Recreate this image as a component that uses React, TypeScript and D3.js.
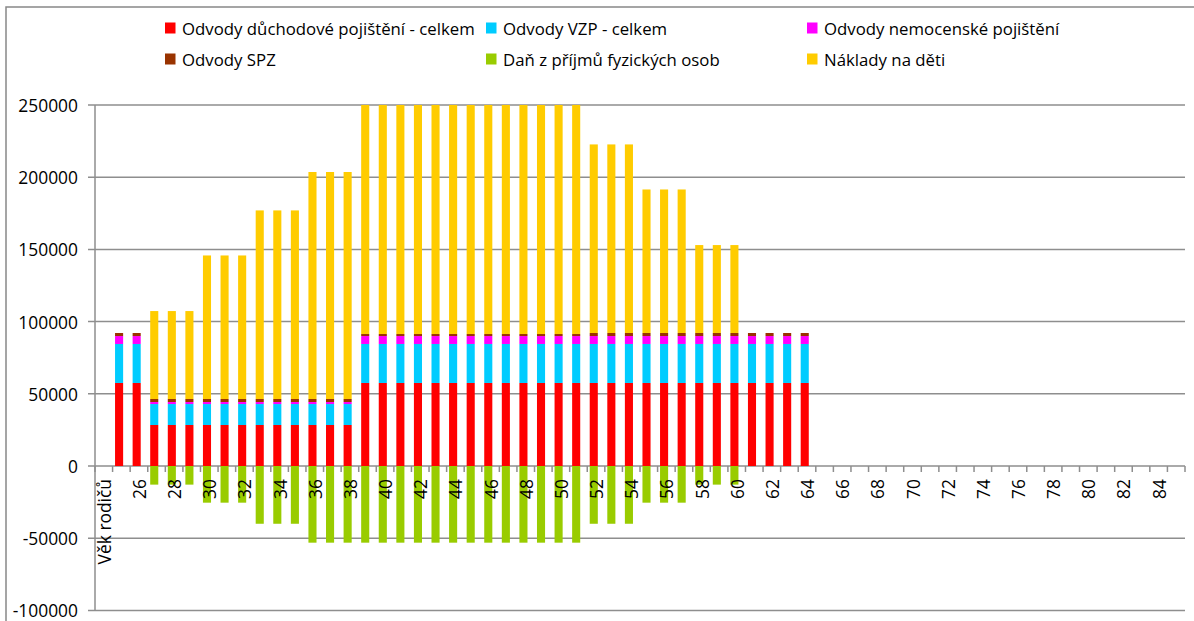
import React from "react";
import * as d3 from "d3";

const categories = [
  "Věk rodičů", "25", "26", "27", "28", "29", "30", "31", "32", "33", "34", "35", "36", "37", "38", "39", "40",
  "41", "42", "43", "44", "45", "46", "47", "48", "49", "50", "51", "52", "53", "54", "55", "56", "57", "58",
  "59", "60", "61", "62", "63", "64", "65", "66", "67", "68", "69", "70", "71", "72", "73", "74", "75", "76",
  "77", "78", "79", "80", "81", "82", "83", "84", "85",
];

// data for ages 25..64
const dataAges = [
  "25", "26", "27", "28", "29", "30", "31", "32", "33", "34", "35", "36", "37", "38", "39", "40", "41", "42",
  "43", "44", "45", "46", "47", "48", "49", "50", "51", "52", "53", "54", "55", "56", "57", "58", "59", "60",
  "61", "62", "63", "64",
];

const duchodove = [
  57500, 57500,
  28400, 28400, 28400, 28400, 28400, 28400, 28400, 28400, 28400, 28400, 28400, 28400,
  57500, 57500, 57500, 57500, 57500, 57500, 57500, 57500, 57500, 57500, 57500, 57500, 57500,
  57500, 57500, 57500, 57500, 57500, 57500, 57500, 57500, 57500,
  57500, 57500, 57500, 57500,
];
const vzp = [
  27000, 27000,
  14500, 14500, 14500, 14500, 14500, 14500, 14500, 14500, 14500, 14500, 14500, 14500,
  27000, 27000, 27000, 27000, 27000, 27000, 27000, 27000, 27000, 27000, 27000, 27000, 27000,
  27000, 27000, 27000, 27000, 27000, 27000, 27000, 27000, 27000,
  27000, 27000, 27000, 27000,
];
const nemocenske = [
  5500, 5500,
  1400, 1400, 1400, 1400, 1400, 1400, 1400, 1400, 1400, 1400, 1400, 1400,
  5500, 5500, 5500, 5500, 5500, 5500, 5500, 5500, 5500, 5500, 5500, 5500, 5500,
  5500, 5500, 5500, 5500, 5500, 5500, 5500, 5500, 5500,
  5500, 5500, 5500, 5500,
];
const spz = [
  2100, 2100,
  2100, 2100, 2100, 2100, 2100, 2100, 2100, 2100, 2100, 2100, 2100, 2100,
  1400, 1400, 1400, 1400, 1400, 1400, 1400, 1400, 1400, 1400, 1400, 1400, 1400,
  2100, 2100, 2100, 2100, 2100, 2100, 2100, 2100, 2100,
  2100, 2100, 2100, 2100,
];
const dan = [
  0, 0,
  -12900, -12900, -12900, -25400, -25400, -25400, -40000, -40000, -40000, -53100, -53100, -53100,
  -53100, -53100, -53100, -53100, -53100, -53100, -53100, -53100, -53100, -53100, -53100, -53100, -53100,
  -40000, -40000, -40000, -25400, -25400, -25400, -12900, -12900, -12900,
  0, 0, 0, 0,
];
const naklady = [
  0, 0,
  60900, 60900, 60900, 99400, 99400, 99400, 130600, 130600, 130600, 157200, 157200, 157200,
  158600, 158600, 158600, 158600, 158600, 158600, 158600, 158600, 158600, 158600, 158600, 158600, 158600,
  130600, 130600, 130600, 99400, 99400, 99400, 60900, 60900, 60900,
  0, 0, 0, 0,
];

const seriesNames = [
  "Odvody důchodové pojištění - celkem",
  "Odvody VZP - celkem",
  "Odvody nemocenské pojištění",
  "Odvody SPZ",
  "Daň z příjmů fyzických osob",
  "Náklady na děti",
];
const seriesColors = ["#FF0000", "#00CCFF", "#FF00FF", "#993300", "#99CC00", "#FFCC00"];
const yTicks = [-100000, -50000, 0, 50000, 100000, 150000, 200000, 250000];

const FONT = "'Open Sans', sans-serif";

export default function App() {
  const W = 1194;
  const H = 621;
  const left = 95;
  const right = 1185;
  const top = 105;
  const bottom = 610.4;

  const x = d3.scaleBand<string>().domain(categories).range([left, right]).paddingInner(0).paddingOuter(0);
  const y = d3.scaleLinear().domain([-100000, 250000]).range([bottom, top]);
  const bw = x.bandwidth();

  const keys = ["duchodove", "vzp", "nemocenske", "spz", "dan", "naklady"];
  const arrays = [duchodove, vzp, nemocenske, spz, dan, naklady];
  const rows = dataAges.map((age, i) => {
    const r: any = { age };
    keys.forEach((k, j) => (r[k] = arrays[j][i]));
    return r;
  });
  const stacked = d3.stack<any>().keys(keys).offset(d3.stackOffsetDiverging)(rows);

  const legendRows = [
    { y: 28, items: [0, 1, 2] },
    { y: 59, items: [3, 4, 5] },
  ];
  const legendX = [165, 486, 807];

  return (
    <svg width={W} height={H} style={{ position: "absolute", left: 0, top: 0 }} fontFamily={FONT}>
      <rect x={0} y={0} width={W} height={H} fill="#fff" />
      <rect x={6} y={7} width={1190} height={640} fill="none" stroke="#888" strokeWidth={1.5} />

      {/* gridlines */}
      {yTicks.map((t) => (
        <g key={t}>
          <line x1={left - 7} x2={right} y1={y(t)} y2={y(t)} stroke="#8e8e8e" strokeWidth={1.5} />
          <text x={78} y={y(t)} textAnchor="end" dominantBaseline="central" fontSize={17.4} fill="#000">
            {t}
          </text>
        </g>
      ))}
      <line x1={left} x2={left} y1={top} y2={bottom} stroke="#8e8e8e" strokeWidth={1.5} />

      {/* bars */}
      {stacked.map((s, si) => (
        <g key={s.key} fill={seriesColors[si]}>
          {s.map((d: any, i: number) => {
            const y0 = y(d[0]);
            const y1 = y(d[1]);
            if (Math.abs(y1 - y0) < 0.01) return null;
            return (
              <rect
                key={i}
                x={(x(d.data.age) as number) + bw * 0.14}
                y={Math.min(y0, y1)}
                width={bw * 0.46}
                height={Math.abs(y1 - y0)}
              />
            );
          })}
        </g>
      ))}

      {/* x axis ticks */}
      {categories.map((c, i) => (
        <line
          key={"t" + i}
          x1={(x(c) as number) + bw}
          x2={(x(c) as number) + bw}
          y1={y(0)}
          y2={y(0) + 6}
          stroke="#8e8e8e"
          strokeWidth={1.5}
        />
      ))}
      <line x1={left} x2={left} y1={y(0)} y2={y(0) + 6} stroke="#8e8e8e" strokeWidth={1.5} />

      {/* x labels */}
      {categories.map((c, i) =>
        i % 2 === 0 ? (
          <text
            key={"l" + i}
            transform={`translate(${(x(c) as number) + bw / 2},479) rotate(-90)`}
            textAnchor="end"
            dominantBaseline="central"
            fontSize={17.4}
            fill="#000"
          >
            {c}
          </text>
        ) : null
      )}

      {/* legend */}
      {legendRows.map((row, ri) =>
        row.items.map((si, k) => (
          <g key={"lg" + si}>
            <rect x={legendX[k]} y={row.y - 5.5} width={10.5} height={11} fill={seriesColors[si]} />
            <text x={legendX[k] + 17} y={row.y} dominantBaseline="central" fontSize={16.8} fill="#000">
              {seriesNames[si]}
            </text>
          </g>
        ))
      )}
    </svg>
  );
}
